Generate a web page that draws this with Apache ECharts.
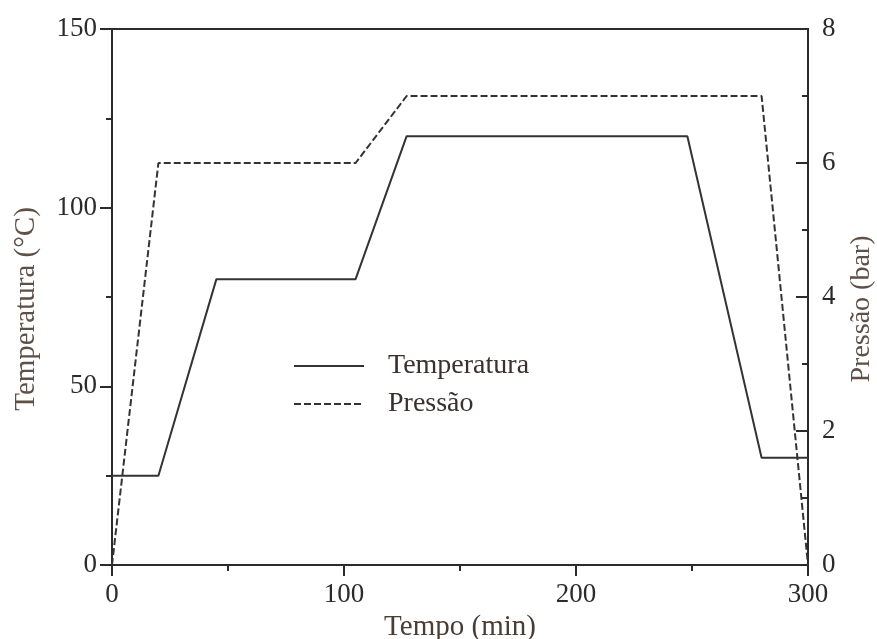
<!DOCTYPE html>
<html>
<head>
<meta charset="utf-8">
<script src="https://cdn.jsdelivr.net/npm/echarts@6/dist/echarts.min.js"></script>
<style>
  html, body { margin: 0; padding: 0; background: #fff; }
  #chart { width: 877px; height: 639px; }
</style>
</head>
<body>
<div id="chart"></div>
<script>
// Temperature profile (time in min, temperature in °C)
const tempTimes = [0, 20, 45, 105, 127, 248, 280, 300];
const tempValues = [25, 25, 80, 80, 120, 120, 30, 30];

// Pressure profile (time in min, pressure in bar)
const presTimes = [0, 20, 105, 127, 280, 300];
const presValues = [0, 6, 6, 7, 7, 0];

// Axis settings
const xTicks = { min: 0, max: 300, interval: 100 };
const tempTicks = { min: 0, max: 150, interval: 50 };
const presTicks = { min: 0, max: 8, interval: 2 };

const seriesNames = ['Temperatura', 'Pressão'];
const axisNames = { x: 'Tempo (min)', left: 'Temperatura (°C)', right: 'Pressão (bar)' };

const FONT = '"Liberation Serif", "DejaVu Serif", serif';
const INK = '#2b2b2b';

const pairs = (xs, ys) => xs.map((x, i) => [x, ys[i]]);

const chart = echarts.init(document.getElementById('chart'), null, { renderer: 'canvas' });

chart.setOption({
  backgroundColor: '#ffffff',
  animation: false,
  textStyle: { fontFamily: FONT },
  grid: {
    left: 112, right: 69, top: 29, bottom: 74,
    outerBoundsMode: 'none', containLabel: false,
    show: true, borderColor: INK, borderWidth: 2, backgroundColor: 'transparent'
  },
  legend: {
    orient: 'vertical',
    left: 293, top: 352, padding: 0,
    itemWidth: 70, itemHeight: 14, itemGap: 10,
    data: seriesNames,
    itemStyle: { opacity: 0 },
    textStyle: { fontFamily: FONT, fontSize: 28, color: '#3a3030', padding: [0, 0, 0, 19] }
  },
  xAxis: {
    type: 'value',
    min: xTicks.min, max: xTicks.max, interval: xTicks.interval,
    name: axisNames.x, nameLocation: 'middle', nameGap: 46,
    nameTextStyle: { fontFamily: FONT, fontSize: 29, color: '#4a3d33' },
    axisLine: { show: true, onZero: false, lineStyle: { color: INK, width: 2 } },
    axisTick: { show: true, inside: false, length: 11, lineStyle: { color: INK, width: 2 } },
    minorTick: { show: true, splitNumber: 2, length: 6, lineStyle: { color: INK, width: 2 } },
    splitLine: { show: false },
    axisLabel: { fontFamily: FONT, fontSize: 27, color: INK, margin: 16 }
  },
  yAxis: [
    {
      type: 'value', position: 'left',
      min: tempTicks.min, max: tempTicks.max, interval: tempTicks.interval,
      name: axisNames.left, nameLocation: 'middle', nameGap: 71,
      nameTextStyle: { fontFamily: FONT, fontSize: 29, color: '#5e5046', padding: [0, 24, 0, 0] },
      axisLine: { show: true, onZero: false, lineStyle: { color: INK, width: 2 } },
      axisTick: { show: true, inside: false, length: 12, lineStyle: { color: INK, width: 2 } },
      minorTick: { show: true, splitNumber: 2, length: 6, lineStyle: { color: INK, width: 2 } },
      splitLine: { show: false },
      axisLabel: { fontFamily: FONT, fontSize: 27, color: INK, margin: 15 }
    },
    {
      type: 'value', position: 'right',
      min: presTicks.min, max: presTicks.max, interval: presTicks.interval,
      name: axisNames.right, nameLocation: 'middle', nameGap: 40,
      nameTextStyle: { fontFamily: FONT, fontSize: 28, color: '#5e5046', padding: [0, 24, 0, 0] },
      axisLine: { show: true, onZero: false, lineStyle: { color: INK, width: 2 } },
      axisTick: { show: true, inside: true, length: 12, lineStyle: { color: INK, width: 2 } },
      minorTick: { show: true, splitNumber: 2, length: 6, lineStyle: { color: INK, width: 2 } },
      splitLine: { show: false },
      axisLabel: { fontFamily: FONT, fontSize: 27, color: INK, margin: 14 }
    }
  ],
  series: [
    {
      name: seriesNames[0], type: 'line', yAxisIndex: 0,
      data: pairs(tempTimes, tempValues),
      symbol: 'none', clip: false,
      lineStyle: { color: '#333', width: 2, type: 'solid' },
      itemStyle: { color: '#333' }
    },
    {
      name: seriesNames[1], type: 'line', yAxisIndex: 1,
      data: pairs(presTimes, presValues),
      symbol: 'none', clip: false,
      lineStyle: { color: '#333', width: 2, type: [7, 3] },
      itemStyle: { color: '#333' }
    }
  ]
});
</script>
</body>
</html>
